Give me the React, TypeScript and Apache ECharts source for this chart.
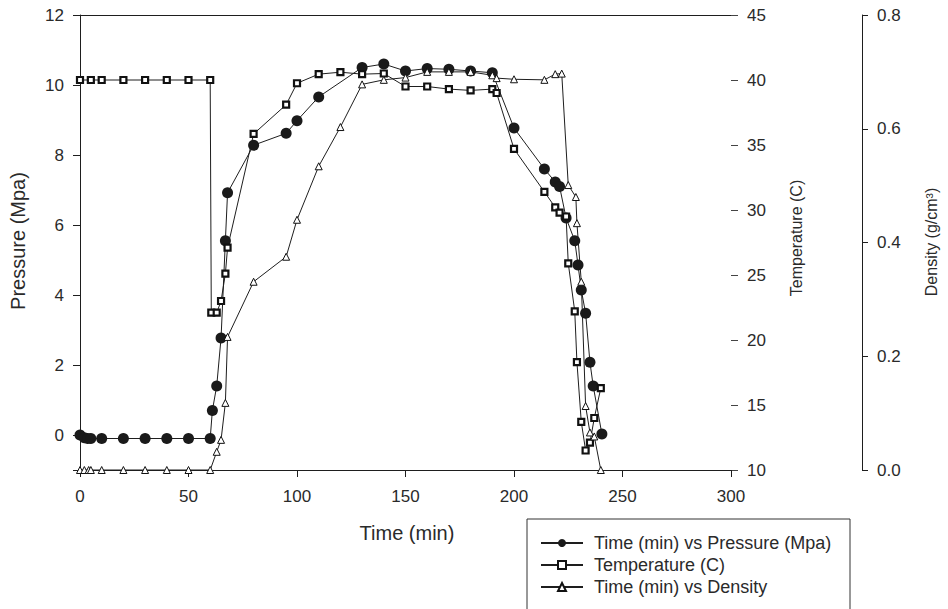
import React, { useEffect, useRef } from "react";
import * as echarts from "echarts";

// Time (min) vs Pressure (Mpa)
const pressureTime = [0, 2, 3.5, 5, 10, 20, 30, 40, 50, 60, 61, 63, 65, 67, 68, 80, 95, 100, 110, 130, 140, 150, 160, 170, 180, 190, 200, 214, 219, 221, 224, 228, 229.5, 231, 233, 235, 236.5, 240.5];
const pressureValues = [0, -0.08, -0.1, -0.1, -0.1, -0.1, -0.1, -0.1, -0.1, -0.1, 0.7, 1.4, 2.77, 5.55, 6.92, 8.28, 8.62, 8.98, 9.66, 10.5, 10.6, 10.4, 10.47, 10.45, 10.4, 10.35, 8.77, 7.6, 7.23, 7.1, 6.2, 5.55, 4.86, 4.14, 3.48, 2.08, 1.4, 0.03];

// Temperature (C)
const temperatureTime = [0, 5, 10, 20, 30, 40, 50, 60, 60.5, 63, 65, 67, 68, 80, 95, 100, 110, 120, 130, 140, 150, 160, 170, 180, 190, 192, 200, 214, 219, 221, 224, 225, 228, 229, 231, 233, 235, 237, 240];
const temperatureValues = [40, 40, 40, 40, 40, 40, 40, 40, 22.1, 22.1, 23.0, 25.1, 27.1, 35.85, 38.1, 39.75, 40.45, 40.6, 40.45, 40.5, 39.5, 39.5, 39.3, 39.2, 39.3, 39.0, 34.7, 31.4, 30.2, 29.8, 29.5, 25.9, 22.2, 18.3, 13.7, 11.5, 12.1, 14.0, 16.3];

// Time (min) vs Density
const densityTime = [0, 2, 4, 5, 10, 20, 30, 40, 50, 60, 63, 65, 67, 68, 80, 95, 100, 110, 120, 130, 140, 150, 160, 170, 180, 190, 192, 200, 214, 219, 222, 225, 228.5, 229, 231, 233, 235, 237, 240];
const densityValues = [0, 0, 0, 0, 0, 0, 0, 0, 0, 0, 0.032, 0.053, 0.118, 0.234, 0.331, 0.375, 0.44, 0.534, 0.603, 0.678, 0.686, 0.69, 0.7, 0.7, 0.7, 0.694, 0.689, 0.687, 0.686, 0.696, 0.697, 0.501, 0.48, 0.434, 0.331, 0.1125, 0.066, 0.059, 0.0];

const pressureTicks = [-1, 0, 2, 4, 6, 8, 10, 12];
const pressureLabels = [0, 2, 4, 6, 8, 10, 12];

const seriesNames = ["Time (min) vs Pressure (Mpa)", "Temperature (C)", "Time (min) vs Density"];

const FONT = "Liberation Sans, Arial, sans-serif";
const INK = "#1e1e1e";
const TEXT = "#2a2a2a";

function pairs(xs: number[], ys: number[]) {
  return xs.map((x, i) => [x, ys[i]]);
}

export default function App() {
  const ref = useRef<HTMLDivElement>(null);

  useEffect(() => {
    document.body.style.margin = "0";
    if (!ref.current) return;
    const chart = echarts.init(ref.current, null, { renderer: "svg" });

    const tickLabel = { color: TEXT, fontSize: 17, fontFamily: FONT };
    const axisLine = { show: true, onZero: false, lineStyle: { color: INK, width: 1 } };

    chart.setOption({
      animation: false,
      backgroundColor: "#ffffff",
      grid: { left: 80, right: 217, top: 15, bottom: 139, containLabel: false, outerBoundsMode: "none" },
      xAxis: [
        {
          type: "value",
          min: 0,
          max: 300,
          interval: 50,
          position: "bottom",
          axisLine,
          axisTick: { show: true, inside: false, length: 7, lineStyle: { color: INK } },
          axisLabel: { ...tickLabel, margin: 18 },
          splitLine: { show: false },
        },
        {
          type: "value",
          min: 0,
          max: 300,
          position: "top",
          axisLine,
          axisTick: { show: false },
          axisLabel: { show: false },
          splitLine: { show: false },
        },
      ],
      yAxis: [
        {
          type: "value",
          min: -1,
          max: 12,
          interval: 1,
          position: "left",
          axisLine,
          axisTick: { show: true, length: 7, customValues: pressureTicks, lineStyle: { color: INK } },
          axisLabel: { ...tickLabel, margin: 16, customValues: pressureLabels },
          splitLine: { show: false },
        },
        {
          type: "value",
          min: 10,
          max: 45,
          interval: 5,
          position: "right",
          axisLine: { show: false, onZero: false },
          axisTick: { show: true, length: 7, lineStyle: { color: "#444" } },
          axisLabel: { ...tickLabel, margin: 16 },
          splitLine: { show: false },
        },
        {
          type: "value",
          min: 0,
          max: 0.8,
          interval: 0.2,
          position: "right",
          offset: 131,
          axisLine,
          axisTick: { show: true, length: 6, lineStyle: { color: INK } },
          axisLabel: { ...tickLabel, margin: 15, formatter: (v: number) => v.toFixed(1) },
          splitLine: { show: false },
        },
      ],
      legend: {
        data: seriesNames,
        orient: "vertical",
        left: 540,
        top: 534,
        height: 100,
        itemWidth: 42,
        itemHeight: 10,
        itemGap: 4,
        padding: 0,
        textStyle: { color: TEXT, fontSize: 18, fontFamily: FONT, padding: [0, 0, 0, 6] },
      },
      graphic: [
        {
          type: "rect",
          shape: { x: 527, y: 519, width: 323, height: 110 },
          style: { fill: "none", stroke: "#333", lineWidth: 1 },
          silent: true,
        },
        {
          type: "text",
          x: 18,
          y: 241,
          rotation: Math.PI / 2,
          style: { text: "Pressure (Mpa)", fontSize: 20, fontFamily: FONT, fill: TEXT, textAlign: "center", textVerticalAlign: "middle" },
        },
        {
          type: "text",
          x: 796,
          y: 238,
          rotation: Math.PI / 2,
          style: { text: "Temperature (C)", fontSize: 16, fontFamily: FONT, fill: TEXT, textAlign: "center", textVerticalAlign: "middle" },
        },
        {
          type: "text",
          x: 931,
          y: 242,
          rotation: Math.PI / 2,
          style: { text: "Density (g/cm³)", fontSize: 16, fontFamily: FONT, fill: TEXT, textAlign: "center", textVerticalAlign: "middle" },
        },
        {
          type: "text",
          x: 407,
          y: 533,
          style: { text: "Time (min)", fontSize: 20, fontFamily: FONT, fill: TEXT, textAlign: "center", textVerticalAlign: "middle" },
        },
      ],
      series: [
        {
          name: seriesNames[0],
          type: "line",
          xAxisIndex: 0,
          yAxisIndex: 0,
          data: pairs(pressureTime, pressureValues),
          symbol: "circle",
          symbolSize: 11,
          itemStyle: { color: "#1a1a1a", borderColor: "#1a1a1a", borderWidth: 0 },
          lineStyle: { color: INK, width: 1 },
        },
        {
          name: seriesNames[1],
          type: "line",
          xAxisIndex: 0,
          yAxisIndex: 1,
          data: pairs(temperatureTime, temperatureValues),
          symbol: "rect",
          symbolSize: 6,
          itemStyle: { color: "#ffffff", borderColor: "#111111", borderWidth: 2.2 },
          lineStyle: { color: INK, width: 1 },
        },
        {
          name: seriesNames[2],
          type: "line",
          xAxisIndex: 0,
          yAxisIndex: 2,
          data: pairs(densityTime, densityValues),
          symbol: "triangle",
          symbolSize: 7,
          itemStyle: { color: "#ffffff", borderColor: "#111111", borderWidth: 1 },
          lineStyle: { color: INK, width: 1 },
        },
      ],
    });

    return () => chart.dispose();
  }, []);

  return <div ref={ref} style={{ width: 948, height: 609 }} />;
}
